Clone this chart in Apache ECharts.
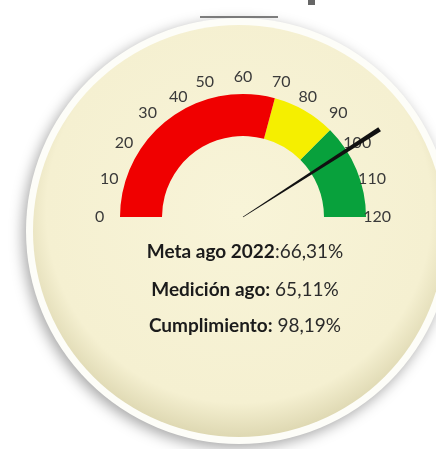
<!DOCTYPE html>
<html>
<head>
<meta charset="utf-8">
<script src="https://cdn.jsdelivr.net/npm/echarts@6/dist/echarts.min.js"></script>
<style>
  html, body { margin: 0; padding: 0; background: #fff; }
  #main { width: 436px; height: 449px; }
</style>
</head>
<body>
<div id="main"></div>
<script>
// escala del velocímetro
var escalaMin = 0;
var escalaMax = 120;
var escalaPaso = 10;
// tramos de color (límite superior de cada tramo)
var tramos = [70, 90, 120];
var coloresTramo = ['#f00000', '#f5ef00', '#08a13c'];
// valor de la aguja (cumplimiento)
var cumplimiento = 98.19;
// textos de abajo
var etiquetas = ['Meta ago 2022', 'Medición ago:', 'Cumplimiento:'];
var valores = [':66,31%', ' 65,11%', ' 98,19%'];

var chart = echarts.init(document.getElementById('main'));

var fuente = 'Lato';
var lineasTexto = etiquetas.map(function (t, i) {
  return {
    type: 'text',
    x: 245,
    y: [252, 290, 326][i],
    style: {
      text: '{b|' + t + '}{v|' + valores[i] + '}',
      align: 'center',
      verticalAlign: 'middle',
      rich: {
        b: { fontFamily: fuente, fontWeight: 'bold', fontSize: 19, fill: '#1b1b1b' },
        v: { fontFamily: fuente, fontSize: 19, fill: '#2a2a2a' }
      }
    }
  };
});

var option = {
  backgroundColor: '#ffffff',
  graphic: [
    {
      type: 'circle',
      shape: { cx: 239, cy: 231, r: 213 },
      style: {
        fill: '#fdfdf8',
        shadowBlur: 14,
        shadowColor: 'rgba(0,0,0,0.35)',
        shadowOffsetX: -3,
        shadowOffsetY: 4
      },
      z: -10
    },
    {
      type: 'circle',
      shape: { cx: 239, cy: 231, r: 206 },
      style: {
        fill: {
          type: 'radial', x: 0.5, y: 0.45, r: 0.55,
          colorStops: [
            { offset: 0, color: '#f8f4d8' },
            { offset: 0.85, color: '#f5f0d1' },
            { offset: 1, color: '#ded8b2' }
          ]
        }
      },
      z: -9
    },
    {
      type: 'line',
      shape: { x1: 200, y1: 17, x2: 278, y2: 17 },
      style: { stroke: '#555', lineWidth: 1.5 },
      z: -8
    },
    {
      type: 'rect',
      shape: { x: 308, y: 0, width: 7, height: 5 },
      style: { fill: '#666' },
      z: -8
    }
  ].concat(lineasTexto),
  series: [
    {
      type: 'gauge',
      center: [243, 217],
      radius: 123,
      startAngle: 180,
      endAngle: 0,
      min: escalaMin,
      max: escalaMax,
      splitNumber: (escalaMax - escalaMin) / escalaPaso,
      axisLine: {
        lineStyle: {
          width: 42,
          color: tramos.map(function (v, i) {
            return [(v - escalaMin) / (escalaMax - escalaMin), coloresTramo[i]];
          })
        }
      },
      axisTick: { show: false },
      splitLine: { show: false, length: 0, distance: 0 },
      axisLabel: {
        distance: -25,
        fontFamily: fuente,
        fontSize: 16,
        color: '#3a3a3a',
        align: 'center',
        verticalAlign: 'middle'
      },
      pointer: {
        icon: 'path://M0,0 L10,0 L5.6,100 L4.4,100 Z',
        length: '132%',
        width: 5,
        offsetCenter: [0, 0],
        itemStyle: { color: '#111' }
      },
      anchor: { show: false },
      title: { show: false },
      detail: { show: false },
      animation: false,
      data: [{ value: cumplimiento }]
    }
  ]
};

chart.setOption(option);
</script>
</body>
</html>
